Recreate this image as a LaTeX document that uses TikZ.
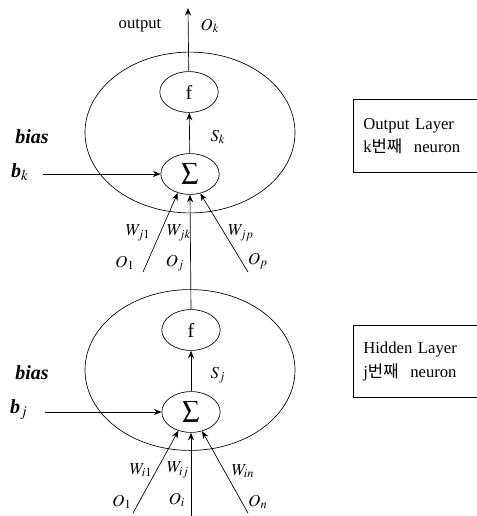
\documentclass[tikz,border=0pt]{standalone}
\usepackage{mathptmx}
\usepackage{fontspec}
\setmainfont{Liberation Serif}
\newfontfamily\krfont{Noto Sans CJK KR}
\usetikzlibrary{arrows.meta,shapes.geometric}

\begin{document}
\begin{tikzpicture}[x=0.6pt, y=-0.6pt,
  neuron/.style={ellipse, draw, minimum width=126pt, minimum height=96.5pt, inner sep=0pt},
  op/.style={ellipse, draw, minimum width=35pt, minimum height=24.5pt, inner sep=0pt},
  arrow/.style={-{Stealth[length=4.5pt, width=3.6pt]}},
  layer/.style={anchor=north west, text width=62pt, inner xsep=6pt, minimum height=43.8pt, align=left},
  bias/.style={font=\large\bfseries\itshape}
]
\useasboundingbox (0,0) rectangle (476,516);
% output layer
\node[neuron] (outcell) at (190,132.5) {};
\node[op] (fk) at (189,92) {\large f};
\node[op] (sumk) at (190,174) {$\displaystyle\sum$};
\coordinate (outtip) at (188,8);
\coordinate (bkin) at (43,174);
\coordinate (ok1) at (143,272);
\coordinate (okp) at (248,272);
\draw[arrow] (fk) -- (outtip);
\draw[arrow] (sumk) -- (fk);
\draw[arrow] (bkin) -- (sumk);
\node at (140,26) {output};
\node at (210,26) {$O_k$};
\node at (218,137) {$S_k$};
\node[bias] at (32,137) {bias};
\node[bias] at (20,172) {b$_k$};
% hidden layer
\node[neuron] (hidcell) at (190,370) {};
\node[op] (fj) at (191,330) {\large f};
\node[op] (sumj) at (191,412) {$\displaystyle\sum$};
\coordinate (bjin) at (45,412);
\coordinate (oj1) at (133,513);
\coordinate (oji) at (191,516);
\coordinate (ojn) at (248,513);
\draw[arrow] (sumj) -- (fj);
\draw[arrow] (bjin) -- (sumj);
\node at (218,375) {$S_j$};
\node[bias] at (32,373) {bias};
\node[bias] at (19,410) {b$_j$};
% weights into sum k
\draw[arrow] (ok1) -- (sumk.237);
\draw[arrow] (fj.north) -- (sumk.south);
\draw[arrow] (okp) -- (sumk.298);
\node at (138,233) {$W_{j1}$};
\node at (179,233) {$W_{jk}$};
\node at (241,233) {$W_{jp}$};
\node at (125,263) {$O_1$};
\node at (175,263) {$O_j$};
\node at (258,261) {$O_p$};
% weights into sum j
\draw[arrow] (oj1) -- (sumj.236);
\draw[arrow] (oji) -- (sumj.south);
\draw[arrow] (ojn) -- (sumj.300);
\node at (141,470) {$W_{i1}$};
\node at (178,470) {$W_{ij}$};
\node at (243,471) {$W_{in}$};
\node at (122,502) {$O_1$};
\node at (177,500) {$O_i$};
\node at (258,502) {$O_n$};
% layer boxes
\node[layer] (outbox) at (353,99) {Output Layer\\[2pt] k{\krfont 번째}\hspace{0.7em}neuron};
\draw (outbox.north east) -- (outbox.north west) -- (outbox.south west) -- (outbox.south east);
\node[layer, minimum height=43.2pt] (hidbox) at (353,325) {Hidden Layer\\[2pt] j{\krfont 번째}\hspace{0.7em}neuron};
\draw (hidbox.north east) -- (hidbox.north west) -- (hidbox.south west) -- (hidbox.south east);
\end{tikzpicture}
\end{document}
